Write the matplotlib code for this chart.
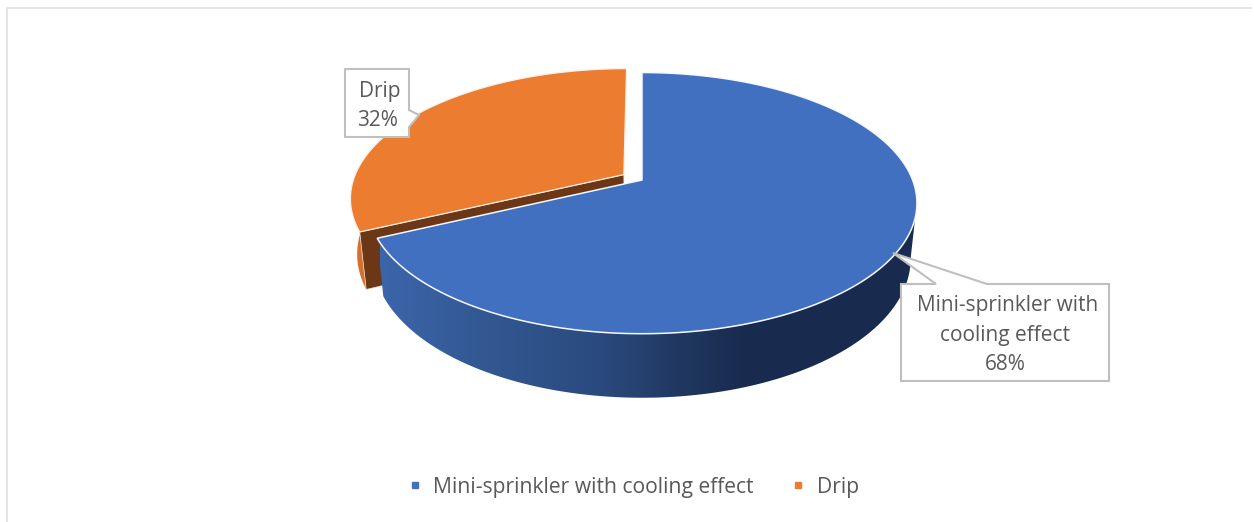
import numpy as np
import matplotlib
matplotlib.use("Agg")
import matplotlib.pyplot as plt
from matplotlib.patches import Polygon
from matplotlib.lines import Line2D
from matplotlib.colors import LinearSegmentedColormap

categories = ["Mini-sprinkler with cooling effect", "Drip"]
mini_label_lines = ["Mini-sprinkler with", "cooling effect"]
shares = [68, 32]
colors = ["#4270C1", "#EB7C30"]
wall_orange = "#D4702C"
face_brown = "#6B3716"
text_color = "#595959"
box_edge = "#BFBFBF"

plt.rcParams["font.family"] = ["Open Sans", "DejaVu Sans"]
W, H = 1254, 522
FS = 15.0
LEG_FS = 15.25
fig = plt.figure(figsize=(W / 100, H / 100), dpi=100)
ax = fig.add_axes([0, 0, 1, 1])

# perspective projection of the pie's unit circle
CX, CY, A, B, K = 642.0, 180.0, 270.6, 126.5, 0.177
SHRINK, D0, D1 = 0.977, 54.2, 0.064
EXPLODE = 0.08

def project(x, y):
    d = 1 + K * y
    return CX + A * x / d, CY - B * y / d

def lower(px, py):
    return CX + SHRINK * (px - CX), py + D0 + D1 * (py - CY)

def slice_pts(a0, a1, off=(0.0, 0.0), n=300):
    phi = np.radians(np.linspace(a0, a1, n))
    return project(np.sin(phi) + off[0], np.cos(phi) + off[1])

def poly(xs, ys, **kw):
    p = Polygon(np.column_stack([xs, ys]), closed=True, **kw)
    ax.add_patch(p)
    return p

# frame
ax.plot([6.5, 6.5, W - 3], [H, 7.5, 7.5], color="#E2E2E2", lw=1.3, zorder=0)

fractions = np.array(shares) / sum(shares)
blue_end = 360 * fractions[0]
mid = np.radians(blue_end + 180 * fractions[1])
off = (EXPLODE * np.sin(mid), EXPLODE * np.cos(mid))

# orange slice: wall, cut face, top
ox, oy = slice_pts(blue_end, 360, off)
lx, ly = lower(ox, oy)
k = ox.size // 2
poly(np.r_[ox[:k], lx[:k][::-1]], np.r_[oy[:k], ly[:k][::-1]], fc=wall_orange, ec="none", zorder=2)
ax_, ay_ = project(*off)
bx_, by_ = lower(ax_, ay_)
lx0, ly0 = lower(ox[0], oy[0])
poly([ax_, ox[0], lx0, bx_], [ay_, oy[0], ly0, by_], fc=face_brown, ec="#F3E4DA", lw=0.5, zorder=3)
poly(np.r_[ax_, ox], np.r_[ay_, oy], fc=colors[1], ec="#FBEFE6", lw=0.9, zorder=4)

# blue slice: gradient wall, top
wall_cmap = LinearSegmentedColormap.from_list(
    "wall", [(0, "#3C65AA"), (0.22, "#31568F"), (0.41, "#2A4A7D"), (0.556, "#203860"),
             (0.667, "#192C4F"), (1, "#182B4E")])
tx, ty = slice_pts(100, blue_end)
bx, by = lower(tx, ty)
wall = poly(np.r_[tx, bx[::-1]], np.r_[ty, by[::-1]], fc="none", ec="none", zorder=5)
grad = np.linspace(0, 1, 540).reshape(1, -1)
im = ax.imshow(grad, cmap=wall_cmap, extent=(380, 920, 420, 150), aspect="auto", zorder=5,
               interpolation="bilinear")
im.set_clip_path(wall)
tx, ty = slice_pts(0, blue_end)
poly(np.r_[CX, tx], np.r_[CY, ty], fc=colors[0], ec="#F6F8FC", lw=1.1, zorder=6)

# callouts
drip_box = [(345, 69), (409, 69), (409, 110), (419, 115), (409, 127), (409, 137), (345, 137)]
mini_box = [(901, 284), (936, 284), (893, 253), (987, 284), (1109, 284), (1109, 381), (901, 381)]
for pts in (drip_box, mini_box):
    ax.add_patch(Polygon(pts, closed=True, fc="white", ec=box_edge, lw=1.5, zorder=8))

def label(x, y, s):
    ax.text(x, y, s, ha="center", va="center", color=text_color, fontsize=FS, zorder=9)

label(379.5, 91, categories[1])
label(377, 120, f"{shares[1]}%")
label(1008, 306, mini_label_lines[0])
label(1005.5, 335, mini_label_lines[1])
label(1005, 364, f"{shares[0]}%")

# legend
handles = [Line2D([], [], ls="none", marker="s", ms=5, color=c) for c in colors]
ax.legend(handles, categories, ncol=2, frameon=False, loc="center",
          bbox_to_anchor=(631.5, 487), bbox_transform=ax.transData,
          fontsize=LEG_FS, labelcolor=text_color, handlelength=1.0, handletextpad=0.38,
          columnspacing=1.6, borderpad=0, borderaxespad=0)

ax.set_xlim(0, W)
ax.set_ylim(H, 0)
ax.axis("off")
fig.savefig("out.png", dpi=100, facecolor="white")
